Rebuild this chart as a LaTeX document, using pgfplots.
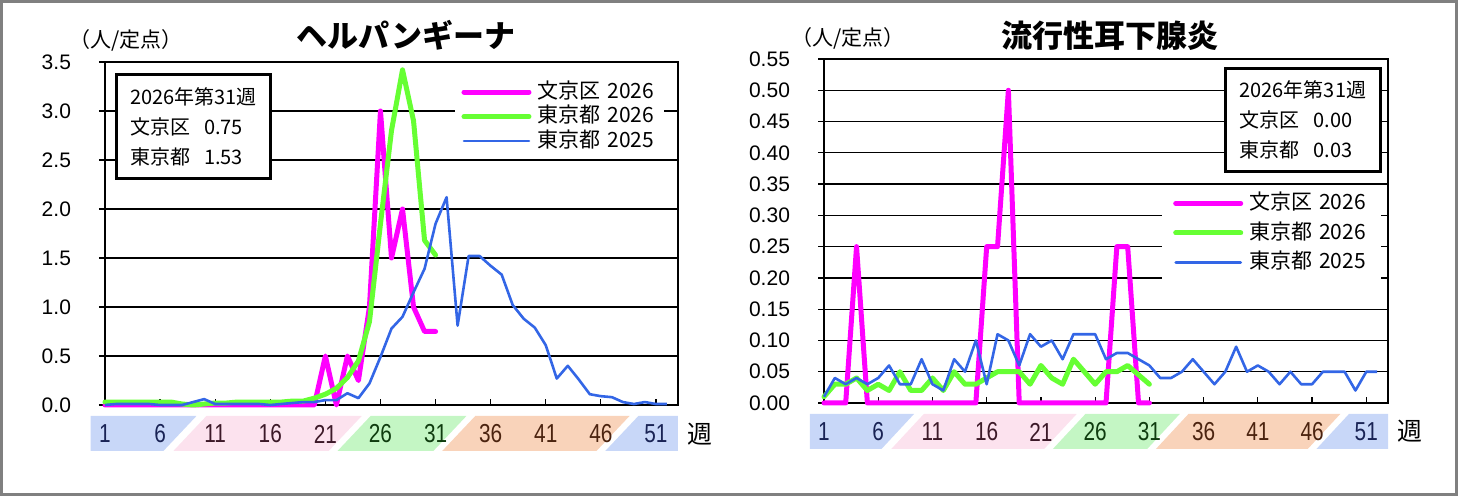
\documentclass[border=0pt]{standalone}
\usepackage{fontspec}
\setmainfont{Noto Sans CJK JP}
\newfontfamily\numfont{Liberation Sans}
\newfontfamily\narrowfont[FakeStretch=0.8]{Liberation Sans}
\usepackage{pgfplots}
\pgfplotsset{compat=1.18}

\definecolor{bkmag}{RGB}{255,0,255}
\definecolor{tkgreen}{RGB}{102,255,51}
\definecolor{tkblue}{RGB}{51,102,230}
\definecolor{bandB}{RGB}{200,215,248}
\definecolor{bandP}{RGB}{252,226,238}
\definecolor{bandG}{RGB}{196,246,196}
\definecolor{bandO}{RGB}{249,211,186}
\definecolor{lbN}{RGB}{25,35,85}
\definecolor{lbP}{RGB}{60,25,40}
\definecolor{lbG}{RGB}{15,60,15}
\definecolor{lbO}{RGB}{75,35,15}
\definecolor{framegray}{RGB}{128,128,128}

% week number under the axis
\newcommand\wk[2]{\node[text=#2, font=\narrowfont\fontsize{13}{14}\selectfont, inner sep=0pt]
  at ([yshift=-14.5pt]axis cs:#1,0) {#1};}
% coloured week bands under the x axis, with their week numbers
\newcommand\bands{%
  \fill[bandB] ([yshift=-5.5pt]axis cs:-0.3,0) -- ([yshift=-5.5pt]axis cs:9.3,0) -- ([yshift=-23pt]axis cs:6.3,0) -- ([yshift=-23pt]axis cs:-0.3,0) -- cycle;
  \fill[bandP] ([yshift=-5.5pt]axis cs:10.2,0) -- ([yshift=-5.5pt]axis cs:24.3,0) -- ([yshift=-23pt]axis cs:21.3,0) -- ([yshift=-23pt]axis cs:7.2,0) -- cycle;
  \fill[bandG] ([yshift=-5.5pt]axis cs:25.1,0) -- ([yshift=-5.5pt]axis cs:33.8,0) -- ([yshift=-23pt]axis cs:30.8,0) -- ([yshift=-23pt]axis cs:22.1,0) -- cycle;
  \fill[bandO] ([yshift=-5.5pt]axis cs:34.6,0) -- ([yshift=-5.5pt]axis cs:48.6,0) -- ([yshift=-23pt]axis cs:45.6,0) -- ([yshift=-23pt]axis cs:31.6,0) -- cycle;
  \fill[bandB] ([yshift=-5.5pt]axis cs:49.4,0) -- ([yshift=-5.5pt]axis cs:53,0) -- ([yshift=-23pt]axis cs:53,0) -- ([yshift=-23pt]axis cs:46.4,0) -- cycle;
  \wk{1}{lbN}\wk{6}{lbN}\wk{11}{lbP}\wk{16}{lbP}\wk{21}{lbP}\wk{26}{lbG}
  \wk{31}{lbG}\wk{36}{lbO}\wk{41}{lbO}\wk{46}{lbO}\wk{51}{lbN}
}

\pgfplotsset{
  weekly/.style={
    scale only axis, clip=false,
    xmin=1, xmax=53, ymin=0,
    xtick={1,6,...,51}, xticklabels={},
    tick pos=left, xtick align=inside, ytick align=outside,
    major tick length=3pt,
    tick style={black, line width=0.6pt},
    axis line style={line width=0.9pt},
    ymajorgrids, grid style={black, line width=0.65pt},
    /pgf/number format/assume math mode=true,
    yticklabel style={font=\numfont\fontsize{10.5}{12}\selectfont, xshift=-10.5pt},
    legend cell align=left,
    legend image code/.code={\draw[#1, line cap=round] (0pt,0pt) -- (32.5pt,0pt);},
  },
  bk/.style={bkmag, line width=2.5pt, line join=round, line cap=round},
  tg/.style={tkgreen, line width=2.5pt, line join=round, line cap=round},
  tb/.style={tkblue, line width=1.3pt, line join=round},
}

\begin{document}
\begin{tikzpicture}
\useasboundingbox (0pt,0pt) rectangle (729pt,-248pt);
\draw[framegray, line width=1.2pt] (0.8pt,-0.8pt) rectangle (728.2pt,-247.2pt);

% ---- left: herpangina ----
\node[font=\fontsize{15.5}{18}\selectfont\bfseries] at (203pt,-17.5pt) {ヘルパンギーナ};
\node[font=\fontsize{10.5}{12}\selectfont] at (63pt,-20pt) {（人/定点）};
\node[font=\fontsize{12.5}{14}\selectfont] at (350pt,-217pt) {週};

\begin{axis}[weekly,
  at={(52.5pt,-202.5pt)}, anchor=south west,
  width=286.5pt, height=171.5pt,
  ymax=3.5, ytick={0,0.5,...,3.5},
  yticklabel style={/pgf/number format/.cd, fixed, fixed zerofill, precision=1},
  legend style={at={(rel axis cs:0.611,0.955)}, anchor=north west, draw=none, fill=white,
    font=\fontsize{10.5}{12}\selectfont, inner xsep=3pt, inner ysep=1pt,
    nodes={inner ysep=0.5pt, text height=8.6pt, text depth=2.65pt},
    /tikz/every odd column/.append style={column sep=1pt}},
]
\bands
\addplot[bk] table {
1 0
2 0
3 0
4 0
5 0
6 0
7 0
8 0
9 0
10 0
11 0
12 0
13 0
14 0
15 0
16 0
17 0
18 0
19 0
20 0
21 0.5
22 0
23 0.5
24 0.25
25 1.0
26 3.0
27 1.5
28 2.0
29 1.0
30 0.75
31 0.75
};
\addlegendentry{文京区\hspace{3.5pt}2026}
\addplot[tg] table {
1 0.03
2 0.03
3 0.03
4 0.03
5 0.03
6 0.03
7 0.03
8 0.01
9 0.0
10 0.01
11 0.02
12 0.02
13 0.03
14 0.03
15 0.03
16 0.03
17 0.03
18 0.04
19 0.04
20 0.07
21 0.11
22 0.17
23 0.28
24 0.45
25 0.85
26 1.85
27 2.8
28 3.42
29 2.9
30 1.68
31 1.53
};
\addlegendentry{東京都\hspace{3.5pt}2026}
\addplot[tb] table {
1 0.0
2 0.01
3 0.01
4 0.01
5 0.01
6 0.0
7 0.0
8 0.0
9 0.03
10 0.06
11 0.01
12 0.01
13 0.01
14 0.01
15 0.01
16 0.0
17 0.01
18 0.02
19 0.03
20 0.03
21 0.05
22 0.05
23 0.12
24 0.07
25 0.22
26 0.49
27 0.78
28 0.9
29 1.15
30 1.39
31 1.85
32 2.12
33 0.81
34 1.52
35 1.52
36 1.42
37 1.33
38 1.02
39 0.88
40 0.79
41 0.61
42 0.27
43 0.4
44 0.26
45 0.11
46 0.09
47 0.08
48 0.03
49 0.01
50 0.03
51 0.01
52 0.01
};
\addlegendentry{東京都\hspace{3.5pt}2025}
\node[draw, line width=1.5pt, fill=white, anchor=north west, align=left,
  minimum width=77pt, minimum height=52pt, inner xsep=4.5pt,
  font=\fontsize{10}{15}\selectfont] at (rel axis cs:0.0175,0.968)
  {2026年第31週\\文京区\hspace{7pt}0.75\\東京都\hspace{7pt}1.53};
\end{axis}

% ---- right: mumps ----
\node[font=\fontsize{15.5}{18}\selectfont\bfseries] at (555pt,-18pt) {流行性耳下腺炎};
\node[font=\fontsize{10.5}{12}\selectfont] at (424pt,-19pt) {（人/定点）};
\node[font=\fontsize{12.5}{14}\selectfont] at (705pt,-215.5pt) {週};

\begin{axis}[weekly,
  at={(412pt,-201.5pt)}, anchor=south west,
  width=282pt, height=172pt,
  ymax=0.55, ytick={0,0.05,...,0.56},
  yticklabel style={/pgf/number format/.cd, fixed, fixed zerofill, precision=2},
  legend style={at={(rel axis cs:0.599,0.63)}, anchor=north west, draw=none, fill=white,
    font=\fontsize{10.5}{12}\selectfont, inner xsep=5.5pt, inner ysep=1pt,
    nodes={inner ysep=0.5pt, text height=10pt, text depth=3.75pt},
    /tikz/every odd column/.append style={column sep=1pt}},
]
\bands
\addplot[bk] table {
1 0
2 0
3 0
4 0.25
5 0
6 0
7 0
8 0
9 0
10 0
11 0
12 0
13 0
14 0
15 0
16 0.25
17 0.25
18 0.5
19 0
20 0
21 0
22 0
23 0
24 0
25 0
26 0
27 0
28 0.25
29 0.25
30 0
31 0
};
\addlegendentry{文京区\hspace{3.5pt}2026}
\addplot[tg] table {
1 0.01
2 0.03
3 0.03
4 0.04
5 0.02
6 0.03
7 0.02
8 0.05
9 0.02
10 0.02
11 0.04
12 0.02
13 0.05
14 0.03
15 0.03
16 0.04
17 0.05
18 0.05
19 0.05
20 0.03
21 0.06
22 0.04
23 0.03
24 0.07
25 0.05
26 0.03
27 0.05
28 0.05
29 0.06
30 0.045
31 0.03
};
\addlegendentry{東京都\hspace{3.5pt}2026}
\addplot[tb] table {
1 0.01
2 0.04
3 0.03
4 0.04
5 0.03
6 0.04
7 0.06
8 0.03
9 0.03
10 0.07
11 0.03
12 0.02
13 0.07
14 0.05
15 0.10
16 0.03
17 0.11
18 0.10
19 0.06
20 0.11
21 0.09
22 0.10
23 0.07
24 0.11
25 0.11
26 0.11
27 0.07
28 0.08
29 0.08
30 0.07
31 0.06
32 0.04
33 0.04
34 0.05
35 0.07
36 0.05
37 0.03
38 0.05
39 0.09
40 0.05
41 0.06
42 0.05
43 0.03
44 0.05
45 0.03
46 0.03
47 0.05
48 0.05
49 0.05
50 0.02
51 0.05
52 0.05
};
\addlegendentry{東京都\hspace{3.5pt}2025}
\node[draw, line width=1.5pt, fill=white, anchor=north west, align=left,
  minimum width=77.5pt, minimum height=51.5pt, inner xsep=4.5pt,
  font=\fontsize{10}{15}\selectfont] at (rel axis cs:0.709,0.977)
  {2026年第31週\\文京区\hspace{7pt}0.00\\東京都\hspace{7pt}0.03};
\end{axis}
\end{tikzpicture}
\end{document}
